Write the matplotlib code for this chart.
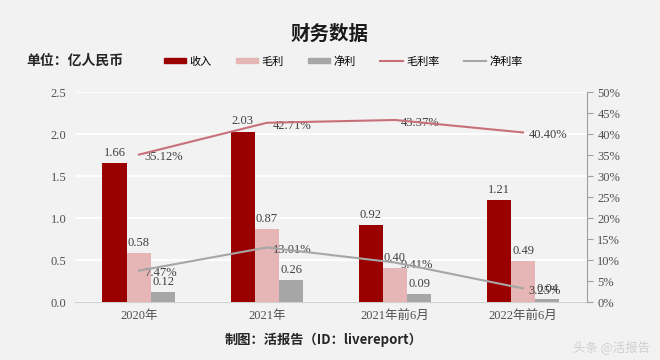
import matplotlib.pyplot as plt
import numpy as np
from matplotlib.ticker import PercentFormatter
from matplotlib.lines import Line2D
from matplotlib.patches import Patch

plt.rcParams['font.family'] = ['Liberation Serif', 'Noto Sans CJK SC']

categories = ['2020年', '2021年', '2021年前6月', '2022年前6月']
revenue = [1.66, 2.03, 0.92, 1.21]
gross = [0.58, 0.87, 0.40, 0.49]
net = [0.12, 0.26, 0.09, 0.04]
gross_margin = [35.12, 42.71, 43.37, 40.40]
net_margin = [7.47, 13.01, 9.41, 3.25]

bg = '#f2f2f2'
c_rev = '#9a0000'
c_gross = '#e6b5b5'
c_net = '#a6a6a6'
c_gm = '#c8707a'
c_nm = '#a6a6a6'
txt = '#404040'

fig = plt.figure(figsize=(6.6, 3.6), dpi=100, facecolor=bg)
ax = fig.add_axes([0.1136, 0.161, 0.7758, 0.583], facecolor=bg)
ax2 = ax.twinx()

x = np.arange(len(categories))
w = 0.19
b1 = ax.bar(x - w, revenue, w, color=c_rev, zorder=3)
b2 = ax.bar(x, gross, w, color=c_gross, zorder=3)
b3 = ax.bar(x + w, net, w, color=c_net, zorder=3)
for bars in (b1, b2, b3):
    ax.bar_label(bars, fmt='%.2f', padding=3, fontsize=9, color=txt)

ax.set_xlim(-0.5, len(categories) - 0.5)
ax.set_ylim(0, 2.5)
ax.set_yticks(np.arange(0, 2.51, 0.5))
ax.yaxis.set_major_formatter(lambda v, p: f'{v:.1f}')
ax.grid(axis='y', color='white', linewidth=1.3, zorder=0)
ax.set_xticks(x)
ax.set_xticklabels(categories)
ax.tick_params(axis='both', length=0, labelsize=9, labelcolor='#505050', pad=6)
for s in ['top', 'right', 'left']:
    ax.spines[s].set_visible(False)
ax.spines['bottom'].set_color('#d0d0d0')

ax2.plot(x, gross_margin, color=c_gm, linewidth=1.5, zorder=4)
ax2.plot(x, net_margin, color=c_nm, linewidth=1.5, zorder=4)
for xi, v in zip(x, gross_margin):
    ax2.annotate(f'{v:.2f}%', (xi, v), xytext=(4, -2), textcoords='offset points',
                 fontsize=9, color=txt, va='center', ha='left')
for xi, v in zip(x, net_margin):
    ax2.annotate(f'{v:.2f}%', (xi, v), xytext=(4, -2), textcoords='offset points',
                 fontsize=9, color=txt, va='center', ha='left')
ax2.set_ylim(0, 50)
ax2.set_yticks(np.arange(0, 51, 5))
ax2.yaxis.set_major_formatter(PercentFormatter(decimals=0))
ax2.tick_params(axis='y', length=4, color='#a0a0a0', labelsize=9, labelcolor='#505050')
for s in ['top', 'left', 'bottom']:
    ax2.spines[s].set_visible(False)
ax2.spines['right'].set_color('#a0a0a0')

fig.text(0.5, 0.905, '财务数据', ha='center', va='center', fontsize=14,
         fontweight='bold', family=['Noto Sans CJK SC'], color='#1a1a1a')
fig.text(0.04, 0.83, '单位：亿人民币', ha='left', va='center', fontsize=10,
         fontweight='bold', family=['Noto Sans CJK SC'], color='#262626')

handles = [Patch(color=c_rev), Patch(color=c_gross), Patch(color=c_net),
           Line2D([], [], color=c_gm, linewidth=1.5),
           Line2D([], [], color=c_nm, linewidth=1.5)]
labels = ['收入', '毛利', '净利', '毛利率', '净利率']
fig.legend(handles, labels, loc='center', bbox_to_anchor=(0.52, 0.83), ncol=5,
           frameon=False, handlelength=2.0, handleheight=0.3,
           handletextpad=0.3, columnspacing=2.2,
           prop={'family': ['Noto Sans CJK SC'], 'size': 8})

fig.text(0.49, 0.055, '制图：活报告（ID：livereport）', ha='center', va='center',
         fontsize=9.5, fontweight='bold', family=['Noto Sans CJK SC'], color='#262626')
fig.text(0.985, 0.035, '头条 @活报告', ha='right', va='center', fontsize=9,
         family=['Noto Sans CJK SC'], color='#d0d0d0')

fig.savefig('out.png', dpi=100, facecolor=bg)
